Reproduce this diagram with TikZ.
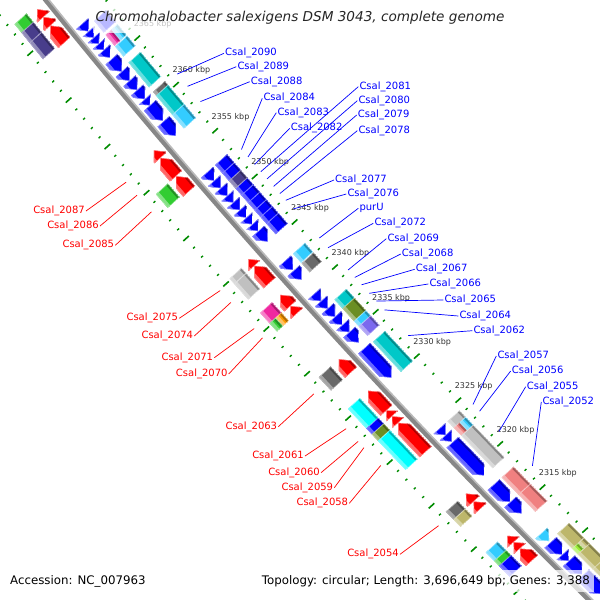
\documentclass[tikz,border=0pt]{standalone}
\usepackage{fontspec}
\setmainfont{DejaVu Sans}
\definecolor{tickgreen}{RGB}{0,140,0}
\definecolor{cogTeal}{RGB}{0,200,200}
\definecolor{cogCyan}{RGB}{0,255,255}
\definecolor{cogLightBlue}{RGB}{51,204,255}
\definecolor{cogMagenta}{RGB}{240,40,160}
\definecolor{cogSlate}{RGB}{72,61,139}
\definecolor{cogOlive}{RGB}{107,142,35}
\definecolor{cogPurple}{RGB}{123,104,238}
\definecolor{cogGrey}{RGB}{192,192,192}
\definecolor{cogDim}{RGB}{105,105,105}
\definecolor{cogKhaki}{RGB}{189,183,107}
\definecolor{cogCoral}{RGB}{240,128,128}
\definecolor{cogGreen}{RGB}{50,205,50}
\definecolor{cogOrange}{RGB}{255,153,0}
\definecolor{cogLime}{RGB}{153,238,51}
\definecolor{cogBlue}{RGB}{0,0,255}

% s = position along the backbone, d = offset from it (outwards > 0), in px
\pgfkeys{/gen/s/.store in=\gsS,/gen/d/.store in=\gsD}
\tikzdeclarecoordinatesystem{gen}{%
  \pgfkeys{/gen/.cd,s=0,d=0,#1}%
  \pgfmathsetmacro\gsE{\gsD-(\gsS/118.3216)*(\gsS/118.3216)}%
  \pgfmathsetmacro\gsX{302+0.670*(\gsS)-0.742*(\gsE)}%
  \pgfmathsetmacro\gsY{-299.5-0.742*(\gsS)-0.670*(\gsE)}%
  \pgfpointxy{\gsX}{\gsY}}

% shaded feature: s1, s2, d1, d2, colour, outline path
\newcommand{\shapebev}[6]{%
  \begin{scope}
    \clip #6;
    \fill[#5] #6;
    \fill[#5!70!black] (gen cs:s=#1,d=#3) -- (gen cs:s=#2,d=#3) -- (gen cs:s=#2,d=#3+2.5) -- (gen cs:s=#1,d=#3+2.5) -- cycle;
    \fill[#5!60!white] (gen cs:s=#1,d=#4-3.5) -- (gen cs:s=#2,d=#4-3.5) -- (gen cs:s=#2,d=#4) -- (gen cs:s=#1,d=#4) -- cycle;
    \draw[#5!40!white,line width=0.8pt] #6;
  \end{scope}}
\newcommand{\feat}[5]{\shapebev{#1}{#2}{#3}{#4}{#5}{(gen cs:s=#1,d=#3) -- (gen cs:s=#2,d=#3) -- (gen cs:s=#2,d=#4) -- (gen cs:s=#1,d=#4) -- cycle}}
% forward genes (outer ring, head towards smaller s)
\newcommand{\fwdcds}[3]{%
  \pgfmathsetmacro\hdpos{min(#2,#1+9)}%
  \shapebev{#1}{#2}{5}{21}{#3}{(gen cs:s=#1,d=13) -- (gen cs:s=\hdpos,d=5) -- (gen cs:s=#2,d=5) -- (gen cs:s=#2,d=21) -- (gen cs:s=\hdpos,d=21) -- cycle}}
% reverse genes (inner ring, head towards larger s)
\newcommand{\revcds}[3]{%
  \pgfmathsetmacro\hdpos{max(#1,#2-9)}%
  \shapebev{#1}{#2}{-21}{-5}{#3}{(gen cs:s=#1,d=-21) -- (gen cs:s=\hdpos,d=-21) -- (gen cs:s=#2,d=-13) -- (gen cs:s=\hdpos,d=-5) -- (gen cs:s=#1,d=-5) -- cycle}}

\begin{document}
\begin{tikzpicture}[x=1pt,y=1pt,
  backbone/.style={draw=black!47,line width=5pt},
  backlite/.style={draw=black!27,line width=1.6pt},
  tickmaj/.style={draw=tickgreen,line width=1.6pt},
  tickmin/.style={draw=tickgreen,line width=1.4pt},
  ticklab/.style={font=\fontsize{8}{9}\selectfont,text=black!80,inner sep=0pt},
  blab/.style={font=\fontsize{10}{12}\selectfont,text=blue,inner sep=1pt,anchor=west},
  rlab/.style={font=\fontsize{10}{12}\selectfont,text=red,inner sep=1pt,anchor=east},
  bline/.style={draw=blue,line width=0.7pt},
  rline/.style={draw=red,line width=0.7pt},
  titlebox/.style={fill=white,fill opacity=0.72,text opacity=1,minimum width=414pt,minimum height=30pt,
    inner sep=0pt,font=\fontsize{13.6}{16}\selectfont\itshape,text=black!85},
  infobox/.style={fill=white,fill opacity=0.72,text opacity=1,inner xsep=4pt,inner ysep=5pt,
    font=\fontsize{11.8}{14}\selectfont,text=black}]

\useasboundingbox (0,0) rectangle (600,-600);
\fill[white] (0,0) rectangle (600,-600);
\clip (0,0) rectangle (600,-600);

% backbone
\draw[backbone] plot[domain=-440:440,samples=45] (gen cs:s=\x,d=0.5);
\draw[backlite] plot[domain=-440:440,samples=45] (gen cs:s=\x,d=-2);

% ticks, 1 kbp apart
\foreach \j in {-36,...,36}{%
  \pgfmathsetmacro\ts{-2+12.1*\j}%
  \pgfmathtruncatemacro\tm{mod(abs(\j),5)}%
  \ifnum\tm=0
    \draw[tickmaj] (gen cs:s=\ts,d=42.5) -- (gen cs:s=\ts,d=50);
    \draw[tickmaj] (gen cs:s=\ts,d=-50) -- (gen cs:s=\ts,d=-42.5);
  \else
    \draw[tickmin] (gen cs:s=\ts,d=45) -- (gen cs:s=\ts,d=47.5);
    \draw[tickmin] (gen cs:s=\ts,d=-47.5) -- (gen cs:s=\ts,d=-45);
  \fi}
\foreach \k in {-5,...,5}{%
  \pgfmathsetmacro\ts{-2+60.5*\k}%
  \pgfmathtruncatemacro\kb{2340-5*\k}%
  \path (gen cs:s=\ts,d=-67) node[ticklab] {\kb\ kbp};}

% forward strand
\foreach \a/\b in {-393/-383,-383/-372,-372/-350,-210/-200,-200/-176,-176/-156,-66/-57,-57/-34,
  -18/-3,-3/7,69/87,112/139,139/147,147/156,156/196,254/265,265/275,313/322,322/331,331/348}
  {\fwdcds{\a}{\b}{red}}
\feat{-397}{-386}{24}{40}{cogGreen}
\feat{-386}{-373}{24}{40}{cogSlate}
\feat{-373}{-352}{24}{40}{cogSlate}
\feat{-176}{-158}{24}{40}{cogGreen}
\feat{-64}{-57}{24}{40}{cogGrey}
\feat{-57}{-36}{24}{40}{cogGrey}
\feat{-18}{-4}{24}{40}{cogMagenta}
\feat{-4}{7}{24}{32}{cogOrange}
\feat{-4}{7}{32}{40}{cogGreen}
\feat{69}{87}{24}{40}{cogDim}
\feat{112}{139}{24}{40}{cogCyan}
\feat{139}{147}{24}{40}{cogBlue}
\feat{147}{156}{24}{40}{cogOlive}
\feat{156}{196}{24}{40}{cogCyan}
\feat{254}{265}{24}{40}{cogDim}
\feat{265}{275}{24}{40}{cogKhaki}
\feat{311}{323}{24}{40}{cogLightBlue}
\feat{323}{330}{24}{40}{cogGreen}
\feat{330}{345}{24}{40}{cogBlue}

% reverse strand
\foreach \a/\b in {-352/-342,-342/-334,-334/-326,-326/-318,-318/-308,-306/-290,-290/-278,-278/-266,
  -266/-254,-254/-246,-246/-226,-225/-206,-158/-147,-147/-137,-137/-127,-127/-118,-118/-108,
  -108/-98,-98/-89,-89/-80,-80/-66,-40/-28,-27/-15,4/14,14/24,24/35,35/46,46/56,56/70,78/118,
  188/197,197/206,207/253,266/290,290/306,347/364,364/373,373/392,393/420}
  {\revcds{\a}{\b}{blue}}
\revcds{334}{345}{cogLightBlue}
\feat{-346}{-331}{-40}{-24}{cogBlue}
\feat{-328}{-314}{-32}{-24}{cogMagenta}
\feat{-328}{-314}{-40}{-32}{cogLightBlue}
\feat{-313}{-300}{-40}{-24}{cogLightBlue}
\feat{-292}{-260}{-40}{-24}{cogTeal}
\feat{-254}{-249}{-40}{-24}{cogDim}
\feat{-249}{-224}{-40}{-24}{cogTeal}
\feat{-224}{-206}{-40}{-24}{cogLightBlue}
\foreach \a/\b in {-158/-147,-147/-137,-127/-118,-118/-108,-108/-98,-98/-89,-89/-80,-80/-66}
  {\feat{\a}{\b}{-40}{-24}{cogBlue}}
\feat{-137}{-127}{-40}{-24}{cogSlate}
\feat{-40}{-28}{-40}{-24}{cogLightBlue}
\feat{-27}{-15}{-40}{-24}{cogDim}
\feat{22}{34}{-40}{-24}{cogTeal}
\feat{34}{51}{-40}{-24}{cogOlive}
\feat{51}{58}{-40}{-24}{cogLightBlue}
\feat{58}{71}{-40}{-24}{cogPurple}
\feat{79}{120}{-40}{-24}{cogTeal}
\feat{188}{197}{-40}{-24}{cogGrey}
\feat{197}{208}{-32}{-24}{cogCoral}
\feat{197}{208}{-40}{-32}{cogLightBlue}
\feat{208}{253}{-40}{-24}{cogGrey}
\feat{266}{290}{-40}{-24}{cogCoral}
\feat{290}{314}{-40}{-24}{cogCoral}
\feat{345}{366}{-40}{-24}{cogKhaki}
\feat{366}{374}{-40}{-32}{cogKhaki}
\feat{366}{374}{-32}{-24}{cogLime}
\feat{374}{395}{-40}{-24}{cogKhaki}
\feat{395}{420}{-40}{-24}{cogKhaki}

% labels, reverse strand
\foreach \nm/\x/\y/\s in {2090/225/53.3/-251,2089/237.3/66.7/-235,2088/250.7/81.7/-215,
  2084/263.3/98.3/-152,2083/277.3/112.7/-142,2082/290.7/128.3/-132,2081/359.3/86.7/-122.5,
  2080/358.3/100.7/-113,2079/357.7/115/-103,2078/358.3/130.7/-93.5,2077/335/180/-84.5,
  2076/347.3/194/-73,2072/374.3/223.3/-21,2069/387.3/238.7/9,2068/401.7/254/19,
  2067/415.7/269.3/29,2066/429.3/284/40.5,2065/444.3/300/51,2064/459.3/316/63,
  2062/473.3/330.7/98,2057/497.3/356/192.5,2056/511.7/371/202,2055/526.7/386.7/230,
  2052/542.3/402/278}{%
  \node[blab] (b\nm) at (\x-1,-\y) {Csal\_\nm};
  \draw[bline] (b\nm.west) -- (gen cs:s=\s,d=-54);}
\node[blab] (bpurU) at (358.3,-208.3) {purU};
\draw[bline] (bpurU.west) -- (gen cs:s=-34,d=-54);

% labels, forward strand
\foreach \nm/\x/\y/\s in {2087/85/211/-205,2086/99/226/-188,2085/114.3/245.3/-166,
  2075/178.3/318.3/-61.5,2074/193.3/336/-45.5,2071/213.3/357.7/-10.5,2070/227.7/374/2,
  2063/277.3/426.7/78,2061/304/456/125.5,2060/320/472.7/143,2059/333.3/487.7/151.5,
  2058/348.3/503.3/176,2054/399/554.3/259.5}{%
  \node[rlab] (r\nm) at (\x+1,-\y) {Csal\_\nm};
  \draw[rline] (r\nm.east) -- (gen cs:s=\s,d=55);}

% title and footer
\node[titlebox] (title) at (300,-18) {Chromohalobacter salexigens DSM 3043, complete genome};
\node[infobox,anchor=west] (acc) at (6,-581) {Accession: NC\_007963};
\node[infobox,anchor=east] (topo) at (594,-581) {Topology: circular; Length: 3,696,649 bp; Genes: 3,388};
\end{tikzpicture}
\end{document}
